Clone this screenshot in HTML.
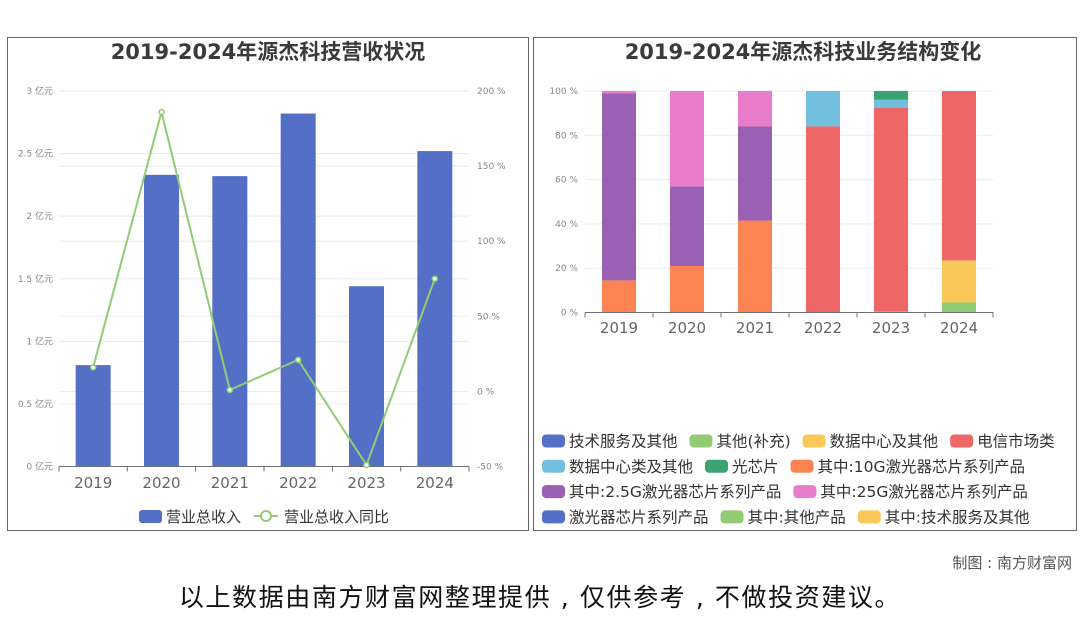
<!DOCTYPE html>
<html><head><meta charset="utf-8">
<style>
body{margin:0;width:1080px;height:614px;background:#fff;overflow:hidden;font-family:"DejaVu Sans","Noto Sans CJK SC",sans-serif;}
svg text{font-family:"DejaVu Sans","Noto Sans CJK SC",sans-serif;}
</style></head>
<body>
<svg id="s" width="1080" height="614" viewBox="0 0 1080 614">
<rect x="7.5" y="37.5" width="521" height="493" fill="#fff" stroke="#666"/>
<rect x="533.5" y="37.5" width="543" height="493" fill="#fff" stroke="#666"/>
<text x="268" y="59" text-anchor="middle" font-size="21" font-weight="bold" fill="#3a3a3a">2019-2024年源杰科技营收状况</text>
<text x="803" y="59" text-anchor="middle" font-size="21" font-weight="bold" fill="#3a3a3a">2019-2024年源杰科技业务结构变化</text>
<g id="L"></g><g id="R"></g>
<text x="1072" y="568" text-anchor="end" font-size="15" fill="#555">制图 : 南方财富网</text>
<text x="540" y="606" text-anchor="middle" font-size="25" letter-spacing="1.6" fill="#111">以上数据由南方财富网整理提供 , 仅供参考 , 不做投资建议。</text>
</svg>
<script>
const years=['2019','2020','2021','2022','2023','2024'];
const revenue=[0.81,2.33,2.32,2.82,1.44,2.52];
const growth=[16,186,1,21,-49,75];
const leftTicks=[0,0.5,1,1.5,2,2.5,3];
const rightTicks=[-50,0,50,100,150,200];
const shareTicks=[0,20,40,60,80,100];
const segNames=['其他(补充)','其中:其他产品','其中:10G激光器芯片系列产品','数据中心及其他','电信市场类','其中:2.5G激光器芯片系列产品','数据中心类及其他','其中:25G激光器芯片系列产品','光芯片'];
const segColors=['#91cc75','#91cc75','#fc8452','#fac858','#ee6666','#9a60b4','#73c0de','#ea7ccc','#3ba272'];
const s_other=[0,0,0,0,0,4.5];
const s_otherProd=[0,0,0,0,0.5,0];
const s_10g=[14.5,21,41.5,0,0,0];
const s_dc=[0,0,0,0,0,19];
const s_tel=[0,0,0,84,92,76.5];
const s_25=[84.5,36,42.5,0,0,0];
const s_dcc=[0,0,0,16,3.5,0];
const s_25g=[1,43,16,0,0,0];
const s_opt=[0,0,0,0,4,0];
const series=[s_other,s_otherProd,s_10g,s_dc,s_tel,s_25,s_dcc,s_25g,s_opt];
const legendItems=[['技术服务及其他','#5470c6'],['其他(补充)','#91cc75'],['数据中心及其他','#fac858'],['电信市场类','#ee6666'],['数据中心类及其他','#73c0de'],['光芯片','#3ba272'],['其中:10G激光器芯片系列产品','#fc8452'],['其中:2.5G激光器芯片系列产品','#9a60b4'],['其中:25G激光器芯片系列产品','#ea7ccc'],['激光器芯片系列产品','#5470c6'],['其中:其他产品','#91cc75'],['其中:技术服务及其他','#fac858']];
const NS='http://www.w3.org/2000/svg';
function mk(p,t,a,txt){const e=document.createElementNS(NS,t);for(const k in a)e.setAttribute(k,a[k]);if(txt!==undefined)e.textContent=txt;p.appendChild(e);return e;}
const L=document.getElementById('L');
const lx0=59,lx1=469,ly0=466.5,ly1=91;
const yL=v=>ly0-(v/3)*(ly0-ly1);
const yR=v=>ly0-((v+50)/250)*(ly0-ly1);
const bw=(lx1-lx0)/years.length;
const xc=i=>lx0+bw*(i+0.5);
rightTicks.forEach(t=>{const g=mk(L,'line',{x1:lx0,x2:lx1,y1:yR(t),y2:yR(t),stroke:'#e6e9f5'});
 const tx=mk(L,'text',{x:477,y:yR(t)+3,'font-size':9,fill:'#888'},t+' %');});
leftTicks.forEach(t=>{const g=mk(L,'line',{x1:lx0,x2:lx1,y1:yL(t),y2:yL(t),stroke:'#e6e9f5'});
 const tx=mk(L,'text',{x:53,y:yL(t)+3,'font-size':9,fill:'#888','text-anchor':'end'},t+' 亿元');});
revenue.forEach((v,i)=>{const r=mk(L,'rect',{x:xc(i)-17.5,y:yL(v),width:35,height:ly0-yL(v),fill:'#5470c6'});
 });
mk(L,'line',{x1:lx0,x2:lx1,y1:ly0,y2:ly0,stroke:'#6e7079'});
years.forEach((y,i)=>{mk(L,'line',{x1:lx0+bw*i,x2:lx0+bw*i,y1:ly0,y2:ly0+5,stroke:'#6e7079'});
 const t=mk(L,'text',{x:xc(i),y:488,'font-size':15,fill:'#666','text-anchor':'middle'},y);});
mk(L,'line',{x1:lx1,x2:lx1,y1:ly0,y2:ly0+5,stroke:'#6e7079'});
const pl=mk(L,'polyline',{points:growth.map((v,i)=>xc(i)+','+yR(v)).join(' '),fill:'none',stroke:'#91cc75','stroke-width':2});

growth.forEach((v,i)=>{const c=mk(L,'circle',{cx:xc(i),cy:yR(v),r:2.5,fill:'#fff',stroke:'#91cc75','stroke-width':1.5});});
let g=mk(L,'rect',{x:139,y:510,width:23,height:13,rx:3,fill:'#5470c6'});
g=mk(L,'text',{x:166,y:522,'font-size':15,fill:'#333'},'营业总收入');
mk(L,'line',{x1:254,x2:278,y1:516,y2:516,stroke:'#91cc75','stroke-width':2});
mk(L,'circle',{cx:266,cy:516,r:5,fill:'#fff',stroke:'#91cc75','stroke-width':2});
g=mk(L,'text',{x:284,y:522,'font-size':15,fill:'#333'},'营业总收入同比');
const R=document.getElementById('R');
const rx0=585,rx1=993,ry0=312.5,ry1=91;
const yS=v=>ry0-v/100*(ry0-ry1);
const rbw=(rx1-rx0)/years.length;
const rxc=i=>rx0+rbw*(i+0.5);
shareTicks.forEach(t=>{const l=mk(R,'line',{x1:rx0,x2:rx1,y1:yS(t),y2:yS(t),stroke:'#e6e9f5'});
 const tx=mk(R,'text',{x:578,y:yS(t)+3,'font-size':9,fill:'#888','text-anchor':'end'},t+' %');});
years.forEach((y,i)=>{let acc=0;series.forEach((s,k)=>{const v=s[i];if(!v)return;
 const r=mk(R,'rect',{x:rxc(i)-17,y:yS(acc+v),width:34,height:yS(acc)-yS(acc+v),fill:segColors[k]});
 acc+=v;});});
mk(R,'line',{x1:rx0,x2:rx1,y1:ry0,y2:ry0,stroke:'#6e7079'});
years.forEach((y,i)=>{mk(R,'line',{x1:rx0+rbw*i,x2:rx0+rbw*i,y1:ry0,y2:ry0+5,stroke:'#6e7079'});
 const t=mk(R,'text',{x:rxc(i),y:333,'font-size':15,fill:'#666','text-anchor':'middle'},y);});
mk(R,'line',{x1:rx1,x2:rx1,y1:ry0,y2:ry0+5,stroke:'#6e7079'});
const rows=[[0,1,2,3],[4,5,6],[7,8],[9,10,11]];
rows.forEach((row,ri)=>{let x=542;const y=441+ri*25.3;row.forEach(idx=>{const [n,c]=legendItems[idx];
 const sw=mk(R,'rect',{x:x,y:y-6.5,width:23,height:13,rx:4,fill:c});
 const t=mk(R,'text',{x:x+27,y:y+5.5,'font-size':15.5,fill:'#333'},n);
 x+=27+t.getComputedTextLength()+12;});});
</script>
</body></html>
